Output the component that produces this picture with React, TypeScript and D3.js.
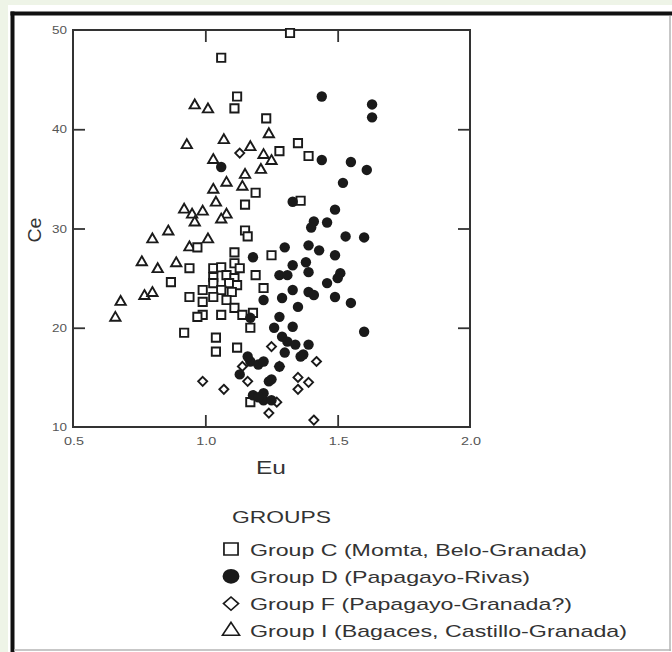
import { useRef, useEffect } from "react";
import * as d3 from "d3";

// Eu, Ce pairs
const groupC: [number, number][] = [
  [1.32, 49.7], [1.06, 47.2], [1.12, 43.3], [1.11, 42.1], [1.23, 41.1],
  [1.35, 38.6], [1.28, 37.8], [1.39, 37.3], [1.19, 33.6], [1.15, 32.4],
  [1.36, 32.8], [1.15, 29.8], [1.16, 29.2], [1.11, 27.6], [1.25, 27.3],
  [1.03, 26.0], [1.06, 26.1], [1.11, 26.5], [1.13, 26.0], [1.03, 25.1],
  [1.08, 25.3], [1.11, 25.0], [1.03, 24.5], [1.09, 24.5], [1.12, 24.3],
  [0.99, 23.8], [1.06, 23.8], [1.1, 23.6], [1.19, 25.3], [1.22, 24.0],
  [1.03, 23.1], [1.08, 22.8], [0.99, 22.6], [1.11, 22.0], [1.06, 21.3],
  [1.14, 21.3], [1.18, 21.5], [1.17, 20.0], [1.04, 19.0], [1.04, 17.6],
  [1.12, 18.0], [1.17, 12.5], [0.99, 21.3], [0.94, 26.0], [0.97, 28.1],
  [0.87, 24.6], [0.94, 23.1], [0.97, 21.1], [0.92, 19.5],
];

const groupD: [number, number][] = [
  [1.44, 43.3], [1.63, 42.5], [1.63, 41.2], [1.44, 36.9], [1.55, 36.7],
  [1.61, 35.9], [1.52, 34.6], [1.33, 32.7], [1.49, 31.9], [1.41, 30.7],
  [1.4, 30.1], [1.46, 30.6], [1.53, 29.2], [1.6, 29.1], [1.43, 27.8],
  [1.39, 28.3], [1.3, 28.1], [1.18, 27.1], [1.49, 27.3], [1.33, 26.3],
  [1.38, 26.6], [1.39, 25.6], [1.28, 25.3], [1.31, 25.3], [1.51, 25.5],
  [1.46, 24.5], [1.5, 25.0], [1.33, 23.8], [1.39, 23.6], [1.41, 23.3],
  [1.22, 22.8], [1.29, 23.0], [1.49, 23.1], [1.55, 22.5], [1.35, 22.1],
  [1.28, 21.1], [1.6, 19.6], [1.33, 20.1], [1.26, 20.0], [1.29, 19.1],
  [1.31, 18.6], [1.34, 18.3], [1.39, 18.3], [1.37, 17.3], [1.3, 17.5],
  [1.17, 16.6], [1.2, 16.3], [1.22, 16.6], [1.24, 14.6], [1.22, 13.4],
  [1.22, 12.7], [1.18, 13.2], [1.13, 15.3], [1.06, 36.2], [1.17, 21.0],
  [1.36, 17.1], [1.16, 17.1], [1.25, 14.8], [1.2, 13.0], [1.25, 12.7],
  [1.28, 16.1],
];

const groupF: [number, number][] = [
  [1.13, 37.6], [0.99, 14.6], [1.07, 13.8], [1.16, 14.6], [1.25, 18.1],
  [1.14, 16.1], [1.35, 15.0], [1.39, 14.5], [1.35, 13.8], [1.27, 12.5],
  [1.24, 11.4], [1.42, 16.6], [1.41, 10.7], [1.28, 16.1],
];

const groupI: [number, number][] = [
  [0.96, 42.4], [1.01, 42.0], [0.93, 38.4], [1.07, 38.9], [1.24, 39.5],
  [1.03, 36.9], [1.17, 38.2], [1.22, 37.4], [1.25, 36.8], [1.21, 35.9],
  [1.15, 35.4], [1.14, 34.2], [1.08, 34.6], [1.03, 33.9], [1.04, 32.6],
  [0.99, 31.7], [1.08, 31.4], [1.06, 30.9], [0.92, 31.9], [0.95, 31.4],
  [0.96, 30.6], [0.86, 29.7], [0.8, 28.9], [1.01, 28.9], [0.94, 28.1],
  [0.76, 26.6], [0.82, 25.9], [0.89, 26.5], [0.77, 23.2], [0.8, 23.5],
  [0.68, 22.6], [0.66, 21.0],
];

const xLabels = [0.5, 1.0, 1.5, 2.0];
const yLabels = [10, 20, 30, 40, 50];
const xTicks = [1.0, 1.5];
const yTicks = [20, 30, 40];

const legendLabels = [
  "Group C (Momta, Belo-Granada)",
  "Group D (Papagayo-Rivas)",
  "Group F (Papagayo-Granada?)",
  "Group I (Bagaces, Castillo-Granada)",
];

const ScatterChart = () => {
  const chartRef = useRef(null);

  useEffect(() => {
    const el = chartRef.current;
    const width = 672;
    const height = 652;
    const font = "'Liberation Sans', Arial, sans-serif";
    const ink = "#1a1a1a";

    const svg = d3
      .select(el)
      .append("svg")
      .attr("width", width)
      .attr("height", height)
      .style("position", "absolute")
      .style("left", "0px")
      .style("top", "0px");

    // page background and panel frame
    svg.append("rect").attr("width", width).attr("height", height).attr("fill", "#eef4e7");
    svg.append("rect").attr("x", 8).attr("y", 5).attr("width", width - 8).attr("height", height - 5).attr("fill", "#fff");
    svg.append("line").attr("x1", 12.5).attr("x2", 12.5).attr("y1", 11.5).attr("y2", height).attr("stroke", "#111").attr("stroke-width", 4);
    svg.append("line").attr("x1", 10.5).attr("x2", width).attr("y1", 13.5).attr("y2", 13.5).attr("stroke", "#111").attr("stroke-width", 4);
    svg.append("line").attr("x1", 670).attr("x2", 670).attr("y1", 16).attr("y2", 651).attr("stroke", "#b5b5b5").attr("stroke-width", 1.5);
    svg.append("line").attr("x1", 14).attr("x2", 671).attr("y1", 650).attr("y2", 650).attr("stroke", "#b5b5b5").attr("stroke-width", 1.5);

    const x = d3.scaleLinear().domain([0.5, 2.0]).range([73, 470]);
    const y = d3.scaleLinear().domain([10, 50]).range([427, 30]);

    // inward ticks on all four sides
    const tickStyle = (g: any) => {
      g.select(".domain").remove();
      g.selectAll(".tick line").attr("stroke", "#333").attr("stroke-width", 1.8);
    };
    svg.append("g").attr("transform", "translate(0,427)")
      .call(d3.axisBottom(x).tickValues(xTicks).tickSize(-12).tickFormat(() => "")).call(tickStyle);
    svg.append("g").attr("transform", "translate(0,30)")
      .call(d3.axisTop(x).tickValues(xTicks).tickSize(-12).tickFormat(() => "")).call(tickStyle);
    svg.append("g").attr("transform", "translate(73,0)")
      .call(d3.axisLeft(y).tickValues(yTicks).tickSize(-12).tickFormat(() => "")).call(tickStyle);
    svg.append("g").attr("transform", "translate(470,0)")
      .call(d3.axisRight(y).tickValues(yTicks).tickSize(-12).tickFormat(() => "")).call(tickStyle);

    svg.append("rect")
      .attr("x", x(0.5)).attr("y", y(50))
      .attr("width", x(2.0) - x(0.5)).attr("height", y(10) - y(50))
      .attr("fill", "none").attr("stroke", "#333").attr("stroke-width", 2);

    // tick labels
    svg.selectAll(".xl").data(xLabels).enter().append("text")
      .attr("x", d => x(d) + 1).attr("y", 445)
      .attr("text-anchor", "middle")
      .attr("font-family", font).attr("font-size", 11)
      .attr("textLength", 20).attr("lengthAdjust", "spacingAndGlyphs")
      .attr("fill", "#555")
      .text(d => d3.format(".1f")(d));
    svg.selectAll(".yl").data(yLabels).enter().append("text")
      .attr("x", 67).attr("y", d => y(d) + 4)
      .attr("text-anchor", "end")
      .attr("font-family", font).attr("font-size", 11)
      .attr("textLength", 15).attr("lengthAdjust", "spacingAndGlyphs")
      .attr("fill", "#555")
      .text(d => d);

    // axis titles
    svg.append("text")
      .attr("x", 271).attr("y", 474)
      .attr("text-anchor", "middle")
      .attr("font-family", font).attr("font-size", 18)
      .attr("textLength", 30).attr("lengthAdjust", "spacingAndGlyphs")
      .attr("fill", "#333").text("Eu");
    svg.append("text")
      .attr("transform", "translate(41,230) rotate(-90)")
      .attr("text-anchor", "middle")
      .attr("font-family", font).attr("font-size", 18)
      .attr("textLength", 25).attr("lengthAdjust", "spacingAndGlyphs")
      .attr("fill", "#333").text("Ce");

    // markers
    const square = d3.symbol().type(d3.symbolSquare).size(68);
    const circle = d3.symbol().type(d3.symbolCircle).size(85);
    const diamond = d3.symbol().type(d3.symbolDiamond2).size(52);
    const triangle = d3.symbol().type(d3.symbolTriangle).size(46);

    const plot = svg.append("g");
    const drawGroup = (data: [number, number][], path: any, filled: boolean) => {
      plot.append("g").selectAll("path").data(data).enter().append("path")
        .attr("d", path)
        .attr("transform", d => `translate(${x(d[0])},${y(d[1])})`)
        .attr("fill", filled ? ink : "#fff")
        .attr("stroke", ink)
        .attr("stroke-width", filled ? 0 : 1.9);
    };
    drawGroup(groupI, triangle, false);
    drawGroup(groupC, square, false);
    drawGroup(groupF, diamond, false);
    drawGroup(groupD, circle, true);

    // legend
    svg.append("text")
      .attr("x", 232).attr("y", 523)
      .attr("font-family", font).attr("font-size", 17)
      .attr("textLength", 99).attr("lengthAdjust", "spacingAndGlyphs")
      .attr("fill", "#333").text("GROUPS");

    const legendRows = [
      { sym: d3.symbol().type(d3.symbolSquare).size(150), filled: false, len: 337 },
      { sym: d3.symbol().type(d3.symbolCircle).size(170), filled: true, len: 280 },
      { sym: d3.symbol().type(d3.symbolDiamond2).size(110), filled: false, len: 322 },
      { sym: d3.symbol().type(d3.symbolTriangle).size(95), filled: false, len: 377 },
    ];
    legendRows.forEach((row, i) => {
      const cy = 549 + i * 27.3;
      svg.append("path")
        .attr("d", row.sym as any)
        .attr("transform", `translate(231,${cy}) scale(1.15,1)`)
        .attr("fill", row.filled ? ink : "#fff")
        .attr("stroke", ink)
        .attr("stroke-width", row.filled ? 0 : 1.5);
      svg.append("text")
        .attr("x", 250).attr("y", cy + 6.5)
        .attr("font-family", font).attr("font-size", 17)
        .attr("textLength", row.len).attr("lengthAdjust", "spacingAndGlyphs")
        .attr("fill", "#333").text(legendLabels[i]);
    });

    return () => {
      d3.select(el).select("svg").remove();
    };
  }, []);

  return <div ref={chartRef}></div>;
};

export default function App() {
  return <ScatterChart />;
}
